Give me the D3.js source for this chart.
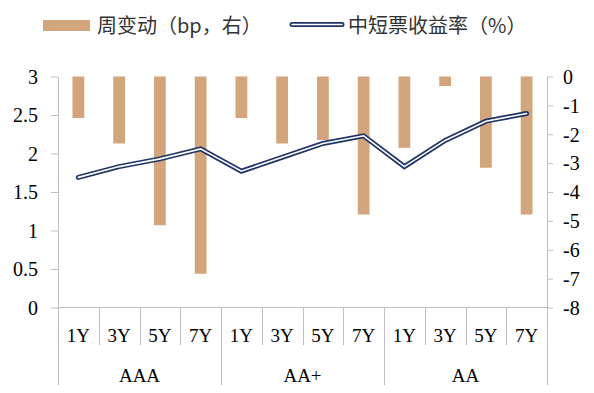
<!DOCTYPE html>
<html>
<head>
<meta charset="utf-8">
<script src="https://cdn.jsdelivr.net/npm/d3@7"></script>
<style>
  body { margin: 0; background: #fff; }
  svg { display: block; }
  .tick text { font-family: "Liberation Serif", "Times New Roman", serif; fill: #000; }
</style>
</head>
<body>
<div id="chart"></div>
<script>
// data
const groups = ['AAA', 'AA+', 'AA']
const terms = ['1Y', '3Y', '5Y', '7Y']
const yieldValues = [1.69, 1.83, 1.93, 2.06, 1.77, 1.95, 2.13, 2.23, 1.83, 2.17, 2.42, 2.52]
const weeklyChange = [-1.44, -2.32, -5.15, -6.83, -1.44, -2.32, -2.2, -4.78, -2.47, -0.33, -3.16, -4.78]
const leftTicks = [0, 0.5, 1, 1.5, 2, 2.5, 3]
const rightTicks = [0, -1, -2, -3, -4, -5, -6, -7, -8]

const categories = []
groups.forEach(g => terms.forEach(t => categories.push({ group: g, term: t, key: g + '-' + t })))
categories.forEach((c, i) => {
  c.yield = yieldValues[i]
  c.change = weeklyChange[i]
})

const width = 594
const height = 393
const margin = { top: 76.5, left: 58, right: 47, bottom: 85.5 }
const plotBottom = height - margin.bottom
const plotRight = width - margin.right

const axisColor = '#bfbfbf'
const barColor = '#d3a57c'
const lineColor = '#1f3468'

const svg = d3.select('#chart')
  .append('svg')
  .attr('width', width)
  .attr('height', height)

const x = d3.scaleBand()
  .domain(categories.map(d => d.key))
  .range([margin.left, plotRight])
  .paddingInner(0.71)
  .paddingOuter(0.355)

const yLeft = d3.scaleLinear().domain([0, 3]).range([plotBottom, margin.top])
const yRight = d3.scaleLinear().domain([-8, 0]).range([plotBottom, margin.top])

// bars hang from the right axis zero
svg.append('g')
  .selectAll('rect')
  .data(categories)
  .enter()
  .append('rect')
  .attr('x', d => x(d.key))
  .attr('width', x.bandwidth())
  .attr('y', yRight(0))
  .attr('height', d => yRight(d.change) - yRight(0))
  .attr('fill', barColor)

// left axis
const leftAxis = svg.append('g')
  .attr('transform', 'translate(' + margin.left + ',0)')
  .call(d3.axisLeft(yLeft).tickValues(leftTicks).tickFormat(d => d).tickSize(7).tickSizeOuter(0).tickPadding(13))
leftAxis.selectAll('text').attr('font-size', 20).attr('dy', '0.34em')

// right axis
const rightAxis = svg.append('g')
  .attr('transform', 'translate(' + plotRight + ',0)')
  .call(d3.axisRight(yRight).tickValues(rightTicks).tickFormat(d => d).tickSize(6).tickSizeOuter(0).tickPadding(10))
rightAxis.selectAll('text').attr('font-size', 20).attr('dy', '0.34em')

svg.selectAll('.domain, .tick line').attr('stroke', axisColor)

// category axis
const catAxis = svg.append('g')
catAxis.append('line')
  .attr('x1', margin.left).attr('x2', plotRight)
  .attr('y1', plotBottom).attr('y2', plotBottom)
  .attr('stroke', axisColor)

const step = x.step()
d3.range(categories.length + 1).forEach(i => {
  const xx = Math.round(margin.left + step * i) + 0.5
  catAxis.append('line')
    .attr('x1', xx).attr('x2', xx)
    .attr('y1', plotBottom)
    .attr('y2', i % terms.length === 0 ? 385 : 345)
    .attr('stroke', axisColor)
})

catAxis.selectAll('.term')
  .data(categories)
  .enter()
  .append('text')
  .attr('class', 'term')
  .attr('x', d => x(d.key) + x.bandwidth() / 2)
  .attr('y', 335)
  .attr('dy', '0.35em')
  .attr('text-anchor', 'middle')
  .attr('font-family', '"Liberation Serif", serif')
  .attr('font-size', 19)
  .text(d => d.term)

catAxis.selectAll('.group')
  .data(groups)
  .enter()
  .append('text')
  .attr('class', 'group')
  .attr('x', (d, i) => margin.left + step * terms.length * (i + 0.5))
  .attr('y', 375)
  .attr('dy', '0.35em')
  .attr('text-anchor', 'middle')
  .attr('font-family', '"Liberation Serif", serif')
  .attr('font-size', 19)
  .text(d => d)

// yield line, drawn double: dark outline with white core
const line = d3.line()
  .x(d => x(d.key) + x.bandwidth() / 2)
  .y(d => yLeft(d.yield))

svg.append('path')
  .datum(categories)
  .attr('d', line)
  .attr('fill', 'none')
  .attr('stroke', lineColor)
  .attr('stroke-width', 5)
  .attr('stroke-linecap', 'round')

svg.append('path')
  .datum(categories)
  .attr('d', line)
  .attr('fill', 'none')
  .attr('stroke', '#fff')
  .attr('stroke-width', 1.6)
  .attr('stroke-linecap', 'round')

// legend
const legend = svg.append('g')
legend.append('rect')
  .attr('x', 43).attr('y', 20)
  .attr('width', 47).attr('height', 11)
  .attr('fill', barColor)
legend.append('text')
  .attr('x', 97).attr('y', 26)
  .attr('dy', '0.35em')
  .attr('font-family', '"Noto Sans CJK SC", sans-serif')
  .attr('font-size', 20)
  .attr('fill', '#333')
  .text('周变动（bp，右）')

legend.append('line')
  .attr('x1', 292).attr('x2', 342)
  .attr('y1', 24.5).attr('y2', 24.5)
  .attr('stroke', lineColor).attr('stroke-width', 5).attr('stroke-linecap', 'round')
legend.append('line')
  .attr('x1', 292).attr('x2', 342)
  .attr('y1', 24.5).attr('y2', 24.5)
  .attr('stroke', '#fff').attr('stroke-width', 1.6).attr('stroke-linecap', 'round')
legend.append('text')
  .attr('x', 348).attr('y', 26)
  .attr('dy', '0.35em')
  .attr('font-family', '"Noto Sans CJK SC", sans-serif')
  .attr('font-size', 20)
  .attr('fill', '#333')
  .text('中短票收益率（%）')
</script>
</body>
</html>
